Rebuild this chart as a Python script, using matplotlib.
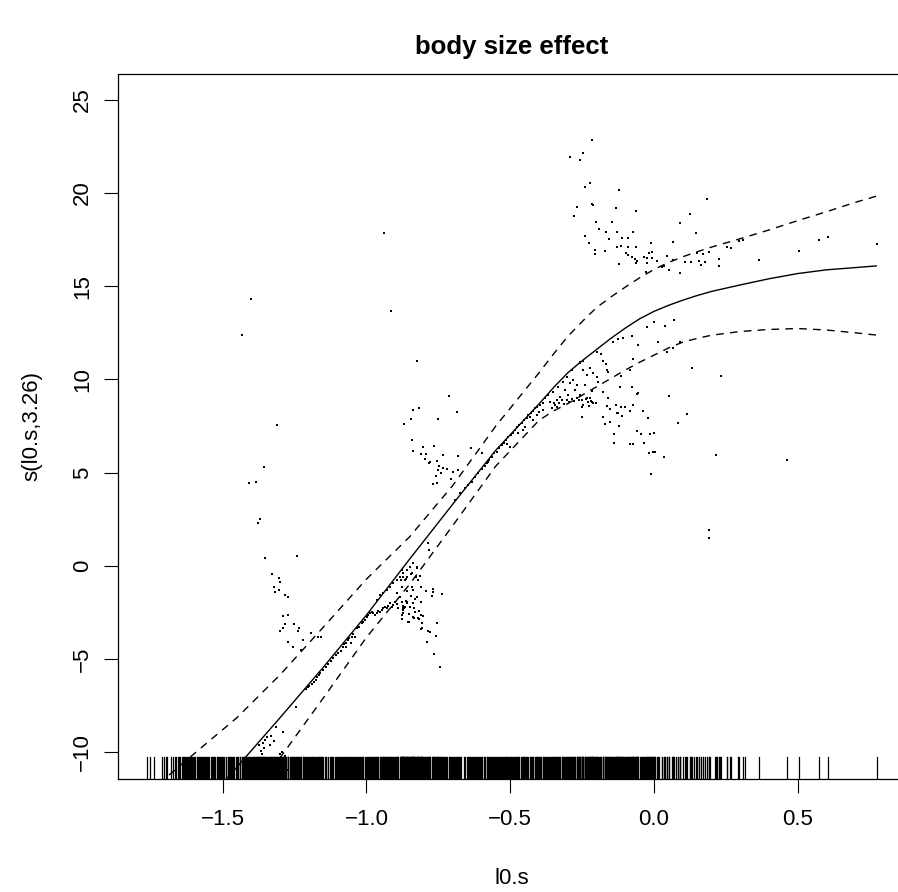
import numpy as np
import matplotlib
matplotlib.use("Agg")
import matplotlib.pyplot as plt

plt.rcParams['font.family'] = ['Liberation Sans', 'DejaVu Sans']

# smooth term estimate and +/- 2 se band
grid_x = [-1.76, -1.6, -1.45, -1.3, -1.15, -1.0, -0.85, -0.7, -0.55, -0.4, -0.35, -0.3,
          -0.25, -0.2, -0.15, -0.1, -0.05, 0.0, 0.05, 0.1, 0.15, 0.2, 0.3, 0.4, 0.5,
          0.6, 0.7, 0.773]
fit = [-16.1, -13.4, -10.8, -8.15, -5.45, -2.65, 0.35, 3.3, 6.2, 8.68, 9.55, 10.35,
       11.0, 11.6, 12.2, 12.75, 13.25, 13.65, 13.97, 14.25, 14.5, 14.72, 15.07, 15.4,
       15.68, 15.88, 16.0, 16.09]
upper = [-12.2, -10.1, -8.15, -5.85, -3.3, -0.72, 1.55, 4.3, 7.5, 10.35, 11.35, 12.3,
         13.1, 13.85, 14.42, 14.95, 15.45, 15.9, 16.27, 16.58, 16.85, 17.1, 17.55, 18.02,
         18.52, 19.0, 19.5, 19.83]
lower = [-20.0, -16.6, -13.4, -10.3, -7.1, -3.85, -1.0, 2.15, 5.35, 7.8, 8.3, 8.7,
         9.15, 9.6, 10.05, 10.5, 10.92, 11.3, 11.68, 12.0, 12.2, 12.37, 12.57, 12.68,
         12.73, 12.65, 12.5, 12.38]

# partial residuals (x, y)
res = [
    # upper left, sparse
    (-0.940, 17.87), (-1.401, 14.32), (-0.914, 13.69), (-1.432, 12.40), (-0.825, 11.00),
    (-0.714, 9.12), (-0.839, 8.37), (-0.817, 8.48), (-0.686, 8.27), (-0.870, 7.62),
    (-0.846, 7.89), (-0.752, 7.89), (-1.311, 7.57), (-0.842, 6.76), (-0.839, 6.17),
    (-0.804, 6.39), (-0.766, 6.44), (-0.638, 6.33), (-1.357, 5.30), (-0.735, 5.96),
    (-0.683, 5.90), (-0.798, 5.74), (-0.784, 5.53), (-0.756, 5.64), (-0.809, 6.01),
    (-0.793, 6.01), (-0.778, 5.58), (-0.747, 5.37), (-0.752, 5.15), (-0.735, 5.26),
    (-0.721, 5.17), (-0.700, 5.05), (-0.758, 4.83), (-0.741, 4.99), (-0.706, 4.65),
    (-0.770, 4.40), (-0.756, 4.46), (-0.680, 5.14), (-0.597, 6.03),
    # left cluster
    (-1.408, 4.46), (-1.385, 4.49), (-1.371, 2.52), (-1.378, 2.31), (-1.354, 0.43),
    (-1.241, 0.54), (-1.329, -0.43), (-1.305, -0.66), (-1.302, -0.86), (-1.322, -1.13),
    (-1.318, -1.40), (-1.304, -1.29), (-1.284, -1.57), (-1.273, -1.66), (-1.291, -2.70),
    (-1.273, -2.63), (-1.284, -3.13), (-1.290, -3.33), (-1.252, -3.13), (-1.235, -3.33),
    (-1.239, -3.49), (-1.301, -3.49), (-1.193, -3.60), (-1.168, -3.84), (-1.158, -3.84),
    (-1.273, -4.10), (-1.220, -3.97), (-1.255, -4.35), (-1.228, -4.52),
    # lower left
    (-1.245, -7.58), (-1.314, -8.66), (-1.291, -8.91), (-1.332, -9.13), (-1.346, -9.18),
    (-1.352, -9.37), (-1.320, -9.43), (-1.358, -9.53), (-1.335, -9.62), (-1.372, -9.62),
    (-1.356, -9.80), (-1.367, -9.93), (-1.363, -10.12), (-1.295, -9.98), (-1.301, -10.11),
    (-1.284, -10.22), (-1.273, -10.97), (-1.330, -10.5), (-1.360, -10.6), (-1.300, -10.7),
    (-1.390, -10.9),
    # band along the curve
    (-1.211, -6.64), (-1.204, -6.53), (-1.199, -6.44), (-1.190, -6.35), (-1.182, -6.23),
    (-1.176, -6.14), (-1.171, -5.99), (-1.165, -5.85), (-1.160, -5.74), (-1.150, -5.60),
    (-1.140, -5.42), (-1.132, -5.28), (-1.123, -5.10), (-1.115, -4.97), (-1.106, -4.79),
    (-1.098, -4.67), (-1.089, -4.56), (-1.082, -4.35), (-1.078, -4.20), (-1.071, -4.13),
    (-1.065, -3.99), (-1.060, -3.90), (-1.051, -3.81), (-1.046, -3.67), (-1.040, -3.81),
    (-1.055, -4.17), (-1.071, -4.35), (-1.034, -3.36), (-1.025, -3.27), (-1.016, -3.09),
    (-1.011, -3.01), (-1.005, -2.91), (-0.999, -2.74), (-0.993, -2.65), (-0.987, -2.56),
    (-0.982, -2.47), (-0.976, -2.56), (-0.970, -2.65), (-0.964, -2.52), (-0.959, -2.42),
    (-0.953, -2.49), (-0.947, -2.38), (-0.941, -2.29), (-0.935, -2.20), (-0.929, -2.29),
    (-0.924, -2.16), (-0.918, -2.02), (-0.912, -2.20), (-0.906, -2.11), (-0.901, -1.93),
    (-0.895, -2.06), (-0.889, -2.29), (-0.964, -1.84), (-0.953, -1.57), (-0.941, -1.48),
    (-0.929, -1.30), (-0.918, -1.13), (-0.906, -0.94), (-0.895, -0.77), (-0.883, -0.59),
    (-0.872, -0.41), (-0.866, -0.77), (-0.860, -0.23), (-0.848, -0.05), (-0.842, -0.41),
    (-0.837, 0.13), (-0.825, -0.14), (-0.877, -1.13), (-0.895, -1.48),
    # spread below the curve near -0.85
    (-0.877, -2.65), (-0.854, -3.01), (-0.837, -2.74), (-0.831, -2.47), (-0.820, -2.83),
    (-0.848, -2.20), (-0.872, -2.29), (-0.860, -2.02), (-0.883, -1.66), (-0.825, -1.66),
    (-0.837, -1.30), (-0.820, -0.77), (-0.860, -0.59), (-0.825, -0.09), (-0.877, -0.23),
    (-0.787, 1.24), (-0.783, 0.84), (-0.845, -0.45), (-0.814, -0.55), (-0.828, -0.61),
    (-0.873, -0.61), (-0.862, -0.72), (-0.880, -0.77), (-0.842, -1.14), (-0.811, -1.14),
    (-0.793, -1.34), (-0.770, -1.25), (-0.770, -1.41), (-0.773, -1.63), (-0.738, -1.52),
    (-0.859, -1.34), (-0.845, -1.63), (-0.831, -1.79), (-0.876, -1.95), (-0.862, -1.89),
    (-0.859, -1.95), (-0.839, -2.00), (-0.811, -1.95), (-0.873, -2.16), (-0.869, -2.27),
    (-0.866, -2.22), (-0.873, -2.38), (-0.834, -2.27), (-0.817, -2.43), (-0.811, -2.65),
    (-0.803, -2.70), (-0.873, -2.54), (-0.852, -2.59), (-0.834, -2.81), (-0.876, -2.86),
    (-0.852, -3.02), (-0.817, -2.86), (-0.807, -3.08), (-0.807, -3.34), (-0.811, -3.38),
    (-0.755, -3.08), (-0.786, -3.51), (-0.779, -3.56), (-0.758, -3.77), (-0.789, -4.10),
    (-0.765, -4.74), (-0.744, -5.44),
    # middle band
    (-0.692, 3.53), (-0.675, 3.89), (-0.657, 4.15), (-0.646, 4.33), (-0.634, 4.51),
    (-0.622, 4.78), (-0.611, 4.99), (-0.599, 5.17), (-0.587, 5.35), (-0.580, 5.53),
    (-0.573, 5.67), (-0.564, 5.85), (-0.556, 6.03), (-0.547, 6.12), (-0.538, 6.30),
    (-0.530, 6.48), (-0.522, 6.60), (-0.515, 6.74), (-0.507, 6.89), (-0.498, 7.02),
    (-0.489, 7.14), (-0.483, 7.28), (-0.475, 7.43), (-0.468, 7.55), (-0.460, 7.68),
    (-0.452, 7.82), (-0.443, 7.91), (-0.437, 8.09), (-0.429, 8.21), (-0.422, 8.32),
    (-0.414, 8.45), (-0.406, 8.50), (-0.396, 8.63), (-0.387, 8.75),
    (-0.576, 5.58), (-0.512, 6.53), (-0.501, 6.39), (-0.472, 7.11), (-0.454, 7.28),
    (-0.449, 7.46), (-0.431, 8.00), (-0.420, 7.82), (-0.408, 8.09), (-0.399, 8.27),
    (-0.385, 8.36),
    # band near -0.3
    (-0.379, 8.99), (-0.368, 9.16), (-0.362, 8.80), (-0.350, 9.34), (-0.344, 8.63),
    (-0.338, 8.89), (-0.333, 9.61), (-0.327, 9.07), (-0.315, 9.88), (-0.310, 9.43),
    (-0.304, 10.15), (-0.298, 9.16), (-0.292, 9.79), (-0.286, 10.50), (-0.281, 9.97),
    (-0.275, 9.43), (-0.269, 9.70), (-0.257, 10.86), (-0.246, 10.50), (-0.234, 10.24),
    (-0.223, 10.60), (-0.211, 10.33), (-0.199, 10.15), (-0.240, 9.70),
    (-0.356, 8.45), (-0.348, 8.72), (-0.338, 8.50), (-0.329, 8.75), (-0.321, 8.89),
    (-0.313, 8.68), (-0.304, 8.89), (-0.294, 8.80), (-0.286, 8.93), (-0.278, 8.86),
    (-0.269, 8.99), (-0.260, 8.89), (-0.251, 8.00), (-0.246, 8.63), (-0.237, 8.93),
    (-0.228, 8.80), (-0.220, 8.86), (-0.211, 8.72), (-0.202, 8.75),
    # scatter right of the bend
    (-0.142, 12.02), (-0.126, 12.15), (-0.109, 12.24), (-0.078, 12.35), (-0.199, 11.49),
    (-0.184, 11.36), (-0.178, 10.99), (-0.167, 10.84), (-0.164, 10.50), (-0.159, 10.41),
    (-0.257, 10.95), (-0.246, 11.00), (-0.074, 11.11), (-0.116, 10.20), (-0.118, 9.61),
    (-0.078, 9.61), (-0.196, 9.88), (-0.216, 9.39), (-0.176, 9.34), (-0.161, 9.02),
    (-0.060, 9.22), (-0.257, 9.16), (-0.251, 8.89), (-0.234, 9.02), (-0.223, 9.00),
    (-0.217, 8.80), (-0.251, 8.53), (-0.227, 8.57), (-0.164, 8.57), (-0.153, 8.43),
    (-0.132, 8.63), (-0.116, 8.53), (-0.101, 8.53), (-0.074, 8.61), (-0.083, 8.32),
    (-0.039, 8.32), (-0.130, 8.21), (-0.124, 8.21), (-0.112, 8.04), (-0.020, 7.94),
    (-0.176, 7.97), (-0.170, 7.62), (-0.153, 7.71), (-0.122, 7.50),
    (0.068, 13.20), (0.000, 13.06), (-0.023, 12.81), (0.037, 12.87), (0.013, 12.02),
    (0.089, 12.02), (0.065, 11.70), (0.044, 11.49), (-0.057, 11.86), (0.131, 10.63),
    (0.232, 10.20), (-0.084, 10.52), (-0.057, 9.25), (0.052, 9.13), (0.115, 8.16),
    (-0.138, 7.09), (-0.060, 7.22), (-0.046, 7.09), (-0.015, 7.09), (0.000, 7.12),
    (0.082, 7.68), (-0.138, 6.60), (-0.084, 6.55), (-0.074, 6.55), (-0.036, 6.60),
    (-0.017, 6.03), (-0.005, 6.12), (0.002, 6.09), (0.034, 5.82), (0.216, 5.94),
    (0.464, 5.69), (-0.010, 4.94), (0.190, 1.93), (0.190, 1.50),
    # upper cluster
    (-0.217, 22.87), (-0.248, 22.17), (-0.293, 21.94), (-0.258, 21.79), (-0.224, 20.56),
    (-0.241, 20.34), (-0.123, 20.18), (0.183, 19.70), (-0.217, 19.41), (-0.213, 19.34),
    (-0.269, 19.27), (-0.133, 19.22), (-0.064, 19.06), (-0.279, 18.79), (0.124, 18.89),
    (0.090, 18.40), (-0.202, 18.47), (-0.147, 18.45), (-0.192, 18.09), (-0.167, 17.91),
    (-0.130, 17.91), (-0.073, 17.91), (0.145, 17.86), (-0.241, 17.71), (-0.158, 17.52),
    (-0.111, 17.61), (-0.091, 17.61), (0.067, 17.38), (-0.010, 17.32), (-0.227, 17.31),
    (-0.130, 17.12), (-0.116, 17.18), (-0.089, 17.12), (-0.064, 17.12), (-0.205, 16.95),
    (-0.170, 16.91), (-0.098, 16.80), (-0.008, 16.84), (-0.017, 16.77), (-0.205, 16.75),
    (0.190, 16.82), (0.253, 17.11), (0.267, 17.07), (0.297, 17.45), (0.308, 17.50),
    (-0.091, 16.66), (-0.077, 16.59), (0.044, 16.64), (0.151, 16.80), (0.171, 16.75),
    (-0.036, 16.57), (-0.025, 16.50), (-0.008, 16.50), (-0.066, 16.45), (-0.060, 16.34),
    (0.009, 16.36), (0.067, 16.39), (0.108, 16.32), (0.128, 16.32), (0.156, 16.37),
    (0.176, 16.32), (-0.123, 16.21), (-0.064, 16.23), (-0.025, 16.23), (0.027, 16.03),
    (0.036, 16.09), (0.052, 15.89), (0.092, 15.73), (0.162, 16.16), (0.227, 16.48),
    (0.227, 16.10), (-0.029, 15.78), (0.366, 16.41), (0.503, 16.89), (0.573, 17.48),
    (0.605, 17.64), (0.774, 17.28),
]
res_x = [p[0] for p in res]
res_y = [p[1] for p in res]

# observations whose residuals fall off the panel (they still show in the rug)
rug_extra = [-1.762, -1.753, -1.738, -1.712, -1.705, -1.698, -1.692, -1.680, -1.672,
             -1.667, -1.661, -1.655, -1.651, -1.648, -1.643, -1.639, -1.636, -1.631,
             -1.627, -1.624, -1.621, -1.617, -1.613, -1.609, -1.605, -1.602, -1.599,
             -1.595, -1.590, -1.588, -1.585, -1.582, -1.578, -1.574, -1.571, -1.568,
             -1.566, -1.561, -1.557, -1.554, -1.550, -1.546, -1.541, -1.537, -1.533,
             -1.530, -1.526, -1.521, -1.518, -1.516, -1.512, -1.509, -1.505, -1.501,
             -1.498, -1.494, -1.490, -1.487, -1.483, -1.480, -1.477, -1.474, -1.470,
             -1.466, -1.463, -1.459, -1.455, -1.451, -1.448, -1.446, -1.441, -1.438,
             -1.434, -1.430, -1.427, -1.424, -1.421, -1.418, -1.415, -1.411, -1.404,
             -1.399, -1.396, -1.392, -1.388, -1.382, -1.380, -1.377, -1.375, -1.368,
             -1.365, -1.362, -1.358, -1.349, -1.344, -1.341, -1.338, -1.333, -1.326,
             -1.316, -1.311, -1.308, -1.297, -1.293, -1.287, -1.280, -1.278, -1.266,
             -1.262, -1.259, -1.256, -1.248, -1.244, -1.237, -1.232, -1.226, -1.222,
             -1.218, -1.215, -1.207, -1.196, -1.188, -1.186, -1.179, -1.168, -1.162,
             -1.154, -1.153, -1.145, -1.141, -1.134, -1.127, -1.119, -1.117, -1.110,
             -1.101, -1.094, -1.092, -1.086, -1.075, -1.067, -1.058, -1.044, -1.037,
             -1.029, -1.022, -1.019, -1.013, -1.003, -0.996, -0.990, -0.984, -0.979,
             -0.973, -0.968, -0.961, -0.950, -0.944, -0.938, -0.932, -0.926, -0.921,
             -0.915, -0.903, -0.897, -0.892, -0.881, -0.868, -0.856, -0.844, -0.833,
             -0.822, -0.810, -0.800, -0.790, -0.781, -0.768, -0.760, -0.749, -0.740,
             -0.731, -0.728, -0.722, -0.712, -0.709, -0.703, -0.695, -0.690, -0.679,
             -0.671, -0.660, -0.651, -0.645, -0.639, -0.630, -0.627, -0.620, -0.615,
             -0.610, -0.605, -0.600, -0.592, -0.589, -0.581, -0.571, -0.568, -0.561,
             -0.553, -0.551, -0.543, -0.536, -0.533, -0.525, -0.518, -0.514, -0.505,
             -0.496, -0.493, -0.487, -0.479, -0.476, -0.468, -0.464, -0.457, -0.450,
             -0.446, -0.440, -0.432, -0.425, -0.421, -0.412, -0.410, -0.403, -0.394,
             -0.392, -0.383, -0.375, -0.372, -0.366, -0.358, -0.355, -0.347, -0.340,
             -0.336, -0.326, -0.320, -0.317, -0.307, -0.300, -0.296, -0.288, -0.277,
             -0.268, -0.265, -0.259, -0.249, -0.239, -0.230, -0.219, -0.208, -0.198,
             -0.189, -0.186, -0.178, -0.169, -0.158, -0.150, -0.146, -0.137, -0.128,
             -0.117, -0.108, -0.105, -0.097, -0.095, -0.088, -0.079, -0.068, -0.058,
             -0.050, -0.043, -0.040, -0.031, -0.012, 0.004, 0.018, 0.027, 0.044, 0.061,
             0.075, 0.085, 0.100, 0.112, 0.126, 0.140, 0.155, 0.171, 0.196, 0.212,
             0.218, 0.229, 0.253, 0.264, 0.293, 0.316]
rug_x = res_x + rug_extra

fig = plt.figure(figsize=(8.98, 8.92), dpi=100)
ax = fig.add_axes([118 / 898, (892 - 778.5) / 892, (905 - 118) / 898, (778.5 - 74) / 892])

ax.plot(res_x, res_y, linestyle='none', marker='s', markersize=1.6, markeredgewidth=0,
        color='black')
ax.plot(grid_x, fit, color='black', linewidth=1.0)
ax.plot(grid_x, upper, color='black', linewidth=1.0, linestyle=(0, (5.5, 4.5)))
ax.plot(grid_x, lower, color='black', linewidth=1.0, linestyle=(0, (5.5, 4.5)))

# rug along the bottom
for xv in rug_x:
    ax.axvline(xv, ymin=0, ymax=0.03, color='black', linewidth=0.9)

ax.set_xlim(-1.864, 0.873)
ax.set_ylim(-11.42, 26.39)
ax.set_xticks([-1.5, -1.0, -0.5, 0.0, 0.5])
ax.set_xticklabels(['\u22121.5', '\u22121.0', '\u22120.5', '0.0', '0.5'])
ax.set_yticks([-10, -5, 0, 5, 10, 15, 20, 25])
ax.set_yticklabels(['\u221210', '\u22125', '0', '5', '10', '15', '20', '25'],
                   rotation=90, va='center')
ax.tick_params(axis='both', length=10, width=0.8, labelsize=16, color='black')
ax.tick_params(axis='x', pad=12)
ax.tick_params(axis='y', pad=8)

for s in ax.spines.values():
    s.set_linewidth(0.9)
ax.spines['right'].set_visible(False)

ax.set_xlabel('l0.s', fontsize=16)
ax.set_ylabel('s(l0.s,3.26)', fontsize=16)
ax.xaxis.set_label_coords(0.5, -0.127)
ax.yaxis.set_label_coords(-0.096, 0.5)

fig.text((118 + 905) / 2 / 898, 1 - 47 / 892, 'body size effect', fontsize=18.5,
         fontweight='bold', ha='center', va='center')

fig.savefig('out.png', dpi=100)
